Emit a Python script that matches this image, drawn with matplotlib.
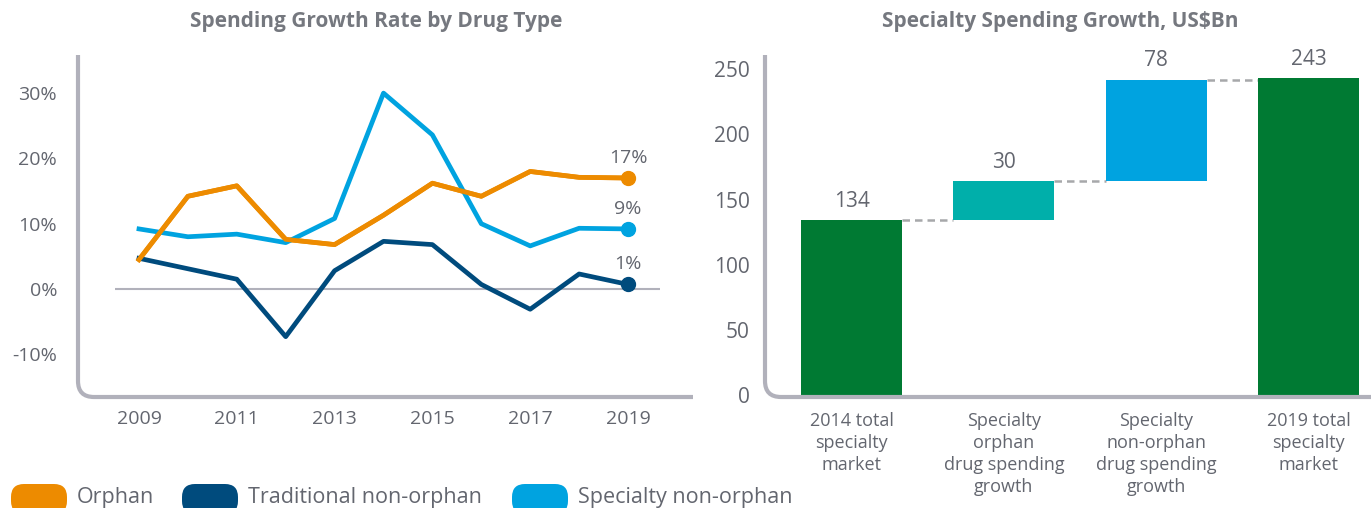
import matplotlib
matplotlib.use("Agg")
import matplotlib.pyplot as plt
from matplotlib.patches import PathPatch, FancyBboxPatch
from matplotlib.path import Path

plt.rcParams["font.family"] = ["Open Sans", "DejaVu Sans"]

W, H = 1371, 508

# left chart data
years = [2009, 2010, 2011, 2012, 2013, 2014, 2015, 2016, 2017, 2018, 2019]
orphan = [4.5, 14.2, 15.8, 7.6, 6.8, 11.3, 16.2, 14.2, 18.0, 17.1, 17.0]
traditional = [4.7, 3.1, 1.5, -7.3, 2.8, 7.3, 6.8, 0.7, -3.1, 2.3, 0.7]
specialty = [9.2, 8.0, 8.4, 7.1, 10.8, 30.0, 23.6, 10.0, 6.6, 9.3, 9.2]
end_labels = ["17%", "1%", "9%"]
series_names = ["Orphan", "Traditional non-orphan", "Specialty non-orphan"]
y_ticks = [-10, 0, 10, 20, 30]
x_ticks = [2009, 2011, 2013, 2015, 2017, 2019]

# right chart data
steps = ["2014 total\nspecialty\nmarket", "Specialty\norphan\ndrug spending\ngrowth",
         "Specialty\nnon-orphan\ndrug spending\ngrowth", "2019 total\nspecialty\nmarket"]
step_values = [134, 30, 78, 243]
step_is_total = [True, False, False, True]
bar_ticks = [0, 50, 100, 150, 200, 250]

ORANGE = "#ED8B00"
NAVY = "#004B7D"
LIGHT_BLUE = "#00A3E0"
GREEN = "#007A33"
TEAL = "#00AFAA"
TEXT = "#63666F"
TITLE = "#75787F"
FRAME = "#B1B1BB"


def px_axes(fig, left, top, right, bottom):
    return fig.add_axes([left / W, 1 - bottom / H, (right - left) / W, (bottom - top) / H])


fig = plt.figure(figsize=(W / 100, H / 100), dpi=100)

# overlay in pixel units (y down) for frames and legend
ov = fig.add_axes([0, 0, 1, 1], zorder=5)
ov.set_xlim(0, W)
ov.set_ylim(H, 0)
ov.axis("off")
ov.patch.set_visible(False)


def rounded_frame(x0, top, x1, bottom, r=16):
    verts = [(x0, top), (x0, bottom - r), (x0, bottom), (x0 + r, bottom), (x1, bottom)]
    codes = [Path.MOVETO, Path.LINETO, Path.CURVE3, Path.CURVE3, Path.LINETO]
    ov.add_patch(PathPatch(Path(verts, codes), fill=False, edgecolor=FRAME,
                           linewidth=3.0, capstyle="butt"))


# ---- left: growth rate lines
ax = px_axes(fig, 78, 55, 693, 395)
px_year = (628 - 139) / 10
ax.set_xlim(2009 - (139 - 78) / px_year, 2019 + (693 - 628) / px_year)
px_pct = 6.53
ax.set_ylim(-(395 - 289) / px_pct, (289 - 55) / px_pct)
for s in ax.spines.values():
    s.set_visible(False)
ax.hlines(0, 2008.5, 2019.65, color=FRAME, linewidth=1.5, zorder=1)

for vals, color, lab in zip([orphan, traditional, specialty], [ORANGE, NAVY, LIGHT_BLUE], end_labels):
    ax.plot(years, vals, color=color, linewidth=3.4, zorder=3)
    ax.plot(years[-1], vals[-1], "o", color=color, markersize=10, zorder=4)
    ax.annotate(lab, (years[-1], vals[-1]), xytext=(0, 8), textcoords="offset points",
                ha="center", va="bottom", fontsize=14, color=TEXT)
# orphan line sits on top in the reference
ax.plot(years, orphan, color=ORANGE, linewidth=3.4, zorder=3.5)

ax.set_yticks(y_ticks)
ax.set_yticklabels([f"{v}%" for v in y_ticks])
ax.set_xticks(x_ticks)
ax.tick_params(length=0, labelsize=14, labelcolor=TEXT)
ax.tick_params(axis="y", pad=15)
ax.tick_params(axis="x", pad=11)
rounded_frame(78, 55, 693, 397)
fig.text(376 / W, 1 - 22 / H, "Spending Growth Rate by Drug Type", ha="center", va="center",
         fontsize=15, fontweight="bold", color=TITLE)

# legend
for color, name, x0 in zip([ORANGE, NAVY, LIGHT_BLUE], series_names, [11, 182, 512]):
    ov.add_patch(FancyBboxPatch((x0, 484), 56, 30, boxstyle="round,pad=0,rounding_size=13",
                                facecolor=color, edgecolor="none"))
    ov.text(x0 + 66, 497, name, ha="left", va="center", fontsize=15.5, color=TEXT)

# ---- right: waterfall
bx = px_axes(fig, 765, 55, W, 395)
for s in bx.spines.values():
    s.set_visible(False)
px_unit = (395 - 78.3) / 243
bx.set_ylim(0, (395 - 55) / px_unit)
px_bar = (1308.5 - 851.5) / 3
bx.set_xlim((765 - 851.5) / px_bar, (W - 851.5) / px_bar)
bar_w = 101 / px_bar

running = 0
tops = []
for i, (v, total) in enumerate(zip(step_values, step_is_total)):
    bottom = 0 if total else running
    color = GREEN if total else (TEAL if i == 1 else LIGHT_BLUE)
    bx.bar(i, v, bottom=bottom, width=bar_w, color=color, zorder=2)
    top = bottom + v
    running = top
    tops.append(top)
    bx.annotate(str(v), (i, max(top, tops[i - 1] if i else top)), xytext=(0, 6),
                textcoords="offset points", ha="center", va="bottom", fontsize=15, color=TEXT)
for i in range(len(tops) - 1):
    bx.plot([i + bar_w / 2, i + 1 - bar_w / 2], [tops[i], tops[i]], color="#A7A8AA",
            linewidth=1.8, dashes=(3, 2), zorder=1)

bx.set_yticks(bar_ticks)
bx.set_xticks(range(len(steps)))
bx.set_xticklabels(steps, linespacing=1.3)
bx.tick_params(length=0, labelsize=13, labelcolor=TEXT)
bx.tick_params(axis="y", pad=11, labelsize=15)
bx.tick_params(axis="x", pad=12)
rounded_frame(765, 55, W + 5, 397)
fig.text(1060 / W, 1 - 22 / H, "Specialty Spending Growth, US\\$Bn", ha="center", va="center",
         fontsize=15, fontweight="bold", color=TITLE)

fig.savefig("out.png", dpi=100)
